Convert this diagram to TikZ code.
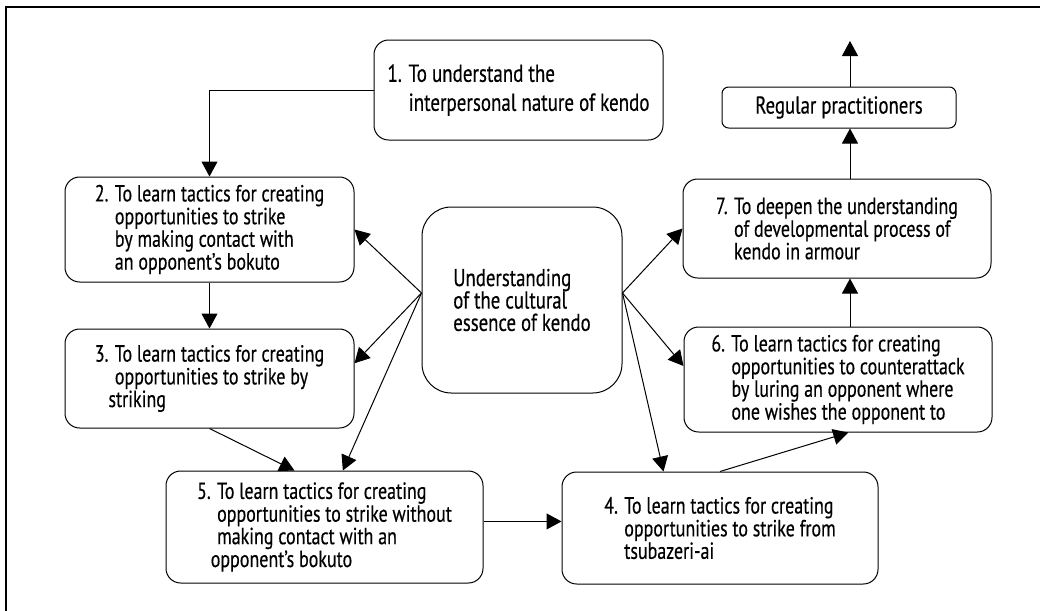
\documentclass[tikz,border=0pt]{standalone}
\usepackage{fontspec}
\setmainfont{PT Sans}[FakeStretch=0.77,FakeBold=0.4]
\usepackage{tikz}
\usetikzlibrary{arrows.meta,calc}

\begin{document}
\begin{tikzpicture}[x=0.75pt,y=-0.75pt,>={Triangle[length=11.25pt,width=12pt]},line width=0.75pt]
\tikzstyle{goal}=[draw,rounded corners=11pt,align=left,inner sep=0pt,font=\fontsize{17.5}{15.75}\selectfont]
\tikzstyle{big}=[font=\fontsize{18.3}{16.8}\selectfont]
\useasboundingbox (0,0) rectangle (1040,611);
% frame, top and left only
\draw[line width=1pt] (6,611) -- (6,7) -- (1040,7);

\node[goal,font=\fontsize{18.5}{15.75}\selectfont,minimum width=216.75pt,minimum height=75pt] (n1) at (518.5,90)
  {1. To understand the\\[6pt]\hphantom{1. }interpersonal nature of kendo};
\node[goal,minimum width=216.75pt,minimum height=78.75pt] (n2) at (209.5,229.5)
  {2. To learn tactics for creating\\\hphantom{2. }opportunities to strike\\\hphantom{2. }by making contact with\\\hphantom{2. }an opponent’s bokuto};
\node[goal,minimum width=216.75pt,minimum height=74.25pt] (n3) at (209.5,378.5)
  {3. To learn tactics for creating\\\hphantom{3. }opportunities to strike by\\\hphantom{3.}striking};
\node[goal,minimum width=237.75pt,minimum height=84pt] (n5) at (324.5,527)
  {5. To learn tactics for creating\\\hphantom{5. }opportunities to strike without\\\hphantom{5. }making contact with an\\\hphantom{5.}opponent’s bokuto};
\node[goal,big,rounded corners=22pt,minimum width=150pt,minimum height=139.5pt] (ctr) at (522,300)
  {Understanding\\of the cultural\\essence of kendo};
\node[goal,minimum width=237pt,minimum height=84pt] (n4) at (720,528)
  {4. To learn tactics for creating\\\hphantom{4. }opportunities to strike from\\\hphantom{4. }tsubazeri-ai};
\node[goal,minimum width=231pt,minimum height=78.75pt] (n6) at (838,379.5)
  {6. To learn tactics for creating\\\hphantom{6. }opportunities to counterattack\\\hphantom{6. }by luring an opponent where\\\hphantom{6. }one wishes the opponent to};
\node[goal,minimum width=231pt,minimum height=74.25pt] (n7) at (837,228.5)
  {7. To deepen the understanding\\\hphantom{7. }of developmental process of\\\hphantom{7. }kendo in armour};
\node[goal,big,rounded corners=5pt,align=center,minimum width=175.5pt,minimum height=30.75pt] (reg) at (839,107.5)
  {Regular practitioners};
\coordinate (up) at (850,41);

\draw[->] (n1.west) -| (n2.north);
\draw[->] (n2.south -| n2.north) -- (n3.north);
\draw[->] (ctr.176) -- (n2.east);
\draw[->] (ctr.176) -- (n3.6);
\draw[->] (ctr.176) -- (n5.72);
\draw[->] (n3.south) -- (n5.118);
\draw[->] (n5.2.5) -- (n5.2.5 -| n4.west);
\draw[->] (ctr.4) -- (n7.west);
\draw[->] (ctr.4) -- (n6.175);
\draw[->] (ctr.4) -- (n4.135.5);
\draw[->] (n4.north) -- (n6.-79);
\draw[->] (n6.north -| up) -- (n7.south -| up);
\draw[->] (n7.north -| up) -- (reg.south -| up);
\draw[->] (reg.north -| up) -- (up);
\end{tikzpicture}
\end{document}
